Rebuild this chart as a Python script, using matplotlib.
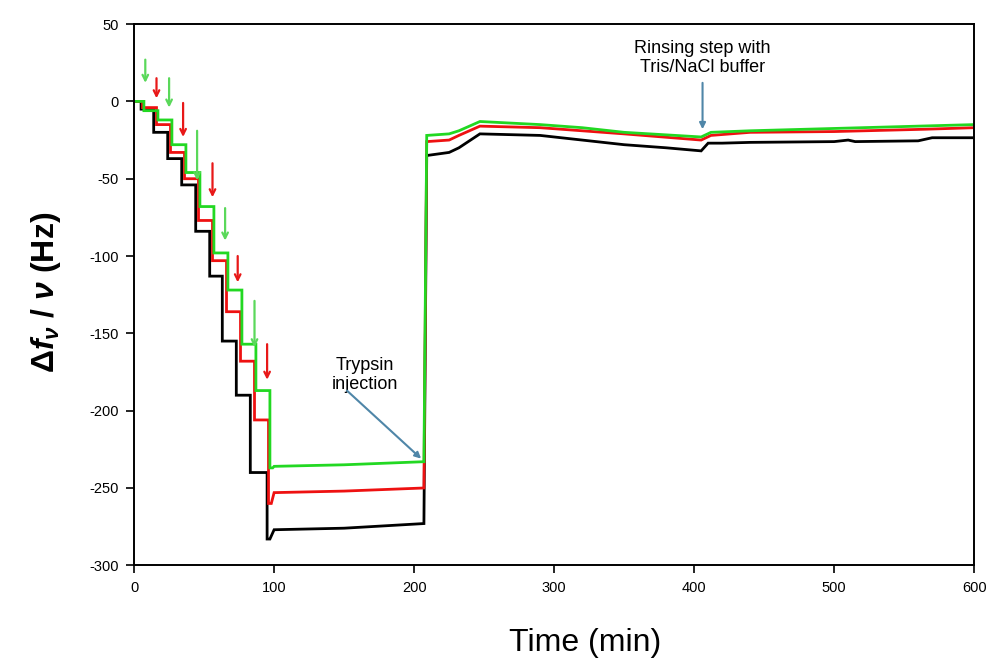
import numpy as np
import matplotlib
matplotlib.use('Agg')
import matplotlib.pyplot as plt

# ---------------- data ----------------
# stepwise adsorption phase (step times in min, plateau levels in Hz)
black_step_t = [5, 14, 24, 34, 44, 54, 63, 73, 83, 95]
black_levels = [0, -5, -20, -37, -54, -84, -113, -155, -190, -240, -283]
red_step_t = [6, 16, 26, 36, 46, 56, 66, 76, 86, 96]
red_levels = [0, -4, -15, -33, -50, -77, -103, -136, -168, -206, -260]
green_step_t = [7, 17, 27, 37, 47, 57, 67, 77, 87, 97]
green_levels = [0, -6, -12, -28, -46, -68, -98, -122, -157, -187, -237]

# plateau, trypsin injection and rinsing phase
black_tail_t = [97, 100, 150, 207, 209, 225, 232, 247, 290, 320, 350, 380, 405, 410, 420, 440, 500, 510, 515, 560, 570, 600]
black_tail_v = [-283, -277, -276, -273, -35, -33, -30, -21, -22, -25, -28, -30, -32, -27, -27, -26.5, -26, -25, -26, -25.5, -23.5, -23.5]
red_tail_t = [98, 100, 150, 207, 209, 225, 232, 247, 290, 320, 350, 405, 412, 440, 500, 565, 600]
red_tail_v = [-260, -253, -252, -250, -26, -25, -22, -16, -17, -19, -21, -25, -22, -20, -19.5, -18, -17]
green_tail_t = [99, 100, 150, 207, 209, 225, 232, 247, 290, 320, 350, 405, 412, 440, 500, 560, 600]
green_tail_v = [-237, -236, -235, -233, -22, -21, -19, -13, -15, -17, -20, -23, -20, -19, -17.5, -16, -15]

# injection arrows (time, start value, end value, colour name)
arrow_t = [8, 16, 25, 35, 45, 56, 65, 74, 86, 95]
arrow_y0 = [27, 15, 15, -1, -19, -40, -69, -100, -129, -157]
arrow_y1 = [12, 2, -4, -23, -51, -62, -90, -117, -159, -180]
arrow_c = ['g', 'r', 'g', 'r', 'g', 'r', 'g', 'r', 'g', 'r']

x_ticks = [0, 100, 200, 300, 400, 500, 600]
y_ticks = [50, 0, -50, -100, -150, -200, -250, -300]

BLACK = '#000000'
RED = '#ee1111'
GREEN = '#22d822'
ARROW_COLORS = {'g': '#5ad85a', 'r': '#e81818'}
NOTE_ARROW = '#4f86a8'

plt.rcParams['font.family'] = ['Liberation Sans', 'DejaVu Sans']
plt.rcParams['axes.unicode_minus'] = False
plt.rcParams['mathtext.fontset'] = 'custom'
plt.rcParams['mathtext.rm'] = 'Liberation Sans:bold'
plt.rcParams['mathtext.it'] = 'Liberation Sans:bold:italic'
plt.rcParams['mathtext.bf'] = 'Liberation Sans:bold'


def build(step_t, levels, tail_t, tail_v):
    xs = [0]
    ys = [levels[0]]
    for i, t in enumerate(step_t):
        xs += [t, t]
        ys += [levels[i], levels[i + 1]]
    xs += list(tail_t)
    ys += list(tail_v)
    return np.array(xs, float), np.array(ys, float)


fig = plt.figure(figsize=(9.86, 6.69), dpi=100)
ax = fig.add_axes([0.136, 0.155, 0.852, 0.809])

for st, lv, tt, tv, col in [
    (black_step_t, black_levels, black_tail_t, black_tail_v, BLACK),
    (red_step_t, red_levels, red_tail_t, red_tail_v, RED),
    (green_step_t, green_levels, green_tail_t, green_tail_v, GREEN),
]:
    x, y = build(st, lv, tt, tv)
    ax.plot(x, y, color=col, lw=2.0, solid_joinstyle='miter')

for t, y0, y1, c in zip(arrow_t, arrow_y0, arrow_y1, arrow_c):
    ax.annotate('', xy=(t, y1), xytext=(t, y0),
                arrowprops=dict(arrowstyle='->', color=ARROW_COLORS[c], lw=1.6,
                                mutation_scale=10, shrinkA=0, shrinkB=0))

# notes
ax.text(165, -177, 'Trypsin\ninjection', ha='center', va='center', fontsize=13,
        linespacing=1.1)
ax.annotate('', xy=(205, -231), xytext=(152, -187),
            arrowprops=dict(arrowstyle='-|>', color=NOTE_ARROW, lw=1.5,
                            mutation_scale=9, shrinkA=0, shrinkB=0))
ax.text(406, 28, 'Rinsing step with\nTris/NaCl buffer', ha='center', va='center',
        fontsize=13, linespacing=1.1)
ax.annotate('', xy=(406, -18), xytext=(406, 12),
            arrowprops=dict(arrowstyle='-|>', color=NOTE_ARROW, lw=1.5,
                            mutation_scale=9, shrinkA=0, shrinkB=0))

ax.set_xlim(0, 600)
ax.set_ylim(-300, 50)
ax.set_xticks(x_ticks)
ax.set_yticks(y_ticks)
ax.tick_params(direction='out', length=6, width=1.2, labelsize=10.5, pad=5)
for s in ax.spines.values():
    s.set_linewidth(1.4)

ax.set_xlabel('Time (min)', fontsize=23)
ax.xaxis.set_label_coords(0.537, -0.115)
ax.set_ylabel(r'$\Delta f_{\nu}$ / $\nu$ (Hz)', fontsize=23, fontweight='bold')
ax.yaxis.set_label_coords(-0.085, 0.505)

fig.savefig('out.png', dpi=100)
